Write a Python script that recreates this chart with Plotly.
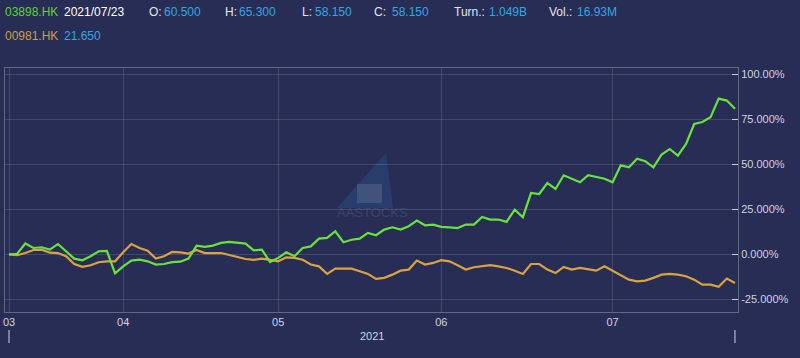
import pandas as pd
import plotly.graph_objects as go

# ---- data -------------------------------------------------------------
holidays = ["2021-04-02", "2021-04-05", "2021-04-06", "2021-05-19", "2021-06-14", "2021-07-01"]
dates = [d.strftime("%Y-%m-%d") for d in pd.bdate_range("2021-03-12", "2021-07-23")
         if d.strftime("%Y-%m-%d") not in holidays]

name_a = "03898.HK"
name_b = "00981.HK"

pct_a = [0.0, 0.3, 6.0, 3.5, 3.9, 2.6, 5.7, 1.7, -2.4, -3.3,
         -1.1, 1.7, 1.9, -10.6, -6.7, -3.5, -3.0, -3.9, -5.7, -5.4,
         -4.4, -4.1, -2.4, 4.8, 4.1, 4.8, 6.3, 6.9, 6.3, 5.9,
         2.2, 2.6, -4.3, -2.0, 1.1, -1.1, 3.5, 4.4, 8.7, 9.1,
         12.8, 6.7, 8.1, 8.7, 11.9, 10.6, 13.7, 15.0, 13.7, 15.6,
         18.7, 16.1, 16.5, 15.2, 15.0, 14.6, 16.5, 16.5, 20.7, 19.3,
         19.3, 18.0, 24.8, 20.6, 34.1, 33.5, 39.6, 36.3, 43.9, 41.9,
         40.0, 43.9, 42.8, 42.0, 40.0, 49.4, 48.3, 53.1, 51.7, 48.3,
         55.4, 58.5, 54.8, 61.3, 72.4, 73.5, 76.1, 86.5, 85.4, 80.9]

pct_b = [0.0, -0.5, 0.7, 2.4, 2.6, 0.9, 0.7, -1.1, -5.4, -7.0,
         -6.1, -4.4, -3.9, -3.9, 1.1, 5.7, 3.5, 2.0, -2.4, -1.1,
         1.3, 1.1, 0.4, 2.4, 0.7, 0.5, 0.7, -0.4, -1.5, -2.6,
         -3.1, -2.4, -3.1, -3.9, -1.7, -2.0, -3.0, -5.7, -6.7, -10.9,
         -8.0, -8.0, -8.0, -9.4, -10.9, -13.7, -13.1, -11.3, -9.1, -8.5,
         -3.5, -5.7, -4.8, -3.3, -3.9, -6.1, -8.5, -7.2, -6.7, -6.0,
         -6.7, -7.6, -9.1, -10.9, -5.4, -5.4, -8.5, -10.4, -7.0, -8.5,
         -7.6, -8.5, -9.1, -6.7, -9.1, -11.7, -14.1, -15.0, -14.6, -13.1,
         -11.3, -10.9, -11.3, -12.2, -14.1, -16.9, -16.9, -18.1, -13.5, -15.9]

y_ticks = [-25, 0, 25, 50, 75, 100]
y_tick_text = ["-25.000%", "0.000%", "25.000%", "50.000%", "75.000%", "100.00%"]
year_label = "2021"

header_row1 = [("03898.HK", "green"), ("2021/07/23", "white"),
               ("O:", "label"), ("60.500", "blue"),
               ("H:", "label"), ("65.300", "blue"),
               ("L:", "label"), ("58.150", "blue"),
               ("C:", "label"), ("58.150", "blue"),
               ("Turn.:", "label"), ("1.049B", "blue"),
               ("Vol.:", "label"), ("16.93M", "blue")]
header_row1_x = [3, 62, 147, 162, 223, 237, 300, 313, 372, 390, 452, 487, 547, 575]
header_row2 = [("00981.HK", "orange"), ("21.650", "blue")]
header_row2_x = [3, 62]

# ---- style ------------------------------------------------------------
BG = "#272d55"
GREEN = "#6ae23c"
ORANGE = "#d9a33f"
TXT = {"green": "#5fd23c", "white": "#ffffff", "label": "#e4e6ee",
       "blue": "#35a6e0", "orange": "#c99f4c"}
GRID = "rgba(255,255,255,0.13)"
FRAME = "rgba(255,255,255,0.28)"
AXIS_TXT = "#d0d3e2"
FONT = "Liberation Sans, Arial, sans-serif"

W, H = 800, 358
L, R, T, B = 5, 62, 68, 46
PW, PH = W - L - R, H - T - B


def px_x(px):
    return (px - L) / PW


def px_y(py):
    return (H - B - py) / PH


# month tick positions from the dates list
month_ticks, month_text = [], []
for i, d in enumerate(dates):
    m = d[5:7]
    if i == 0 or m != dates[i - 1][5:7]:
        month_ticks.append(d)
        month_text.append(m)

fig = go.Figure()
fig.add_trace(go.Scatter(x=dates, y=pct_b, mode="lines", name=name_b,
                         line=dict(color=ORANGE, width=2.2), hoverinfo="skip"))
fig.add_trace(go.Scatter(x=dates, y=pct_a, mode="lines", name=name_a,
                         line=dict(color=GREEN, width=2.2), hoverinfo="skip"))

fig.update_layout(
    width=W, height=H,
    margin=dict(l=L, r=R, t=T, b=B, autoexpand=False),
    paper_bgcolor=BG, plot_bgcolor=BG,
    showlegend=False,
    font=dict(family=FONT, color=AXIS_TXT),
    xaxis=dict(type="category", range=[-0.49, len(dates) - 0.63],
               tickvals=month_ticks, ticktext=month_text,
               showgrid=True, gridcolor=GRID, gridwidth=1,
               showline=True, linecolor=FRAME, linewidth=1, mirror=True,
               ticks="", ticklabelstandoff=0,
               tickfont=dict(family=FONT, size=11, color=AXIS_TXT)),
    yaxis=dict(side="right", range=[-32.06, 103.5],
               tickvals=y_ticks, ticktext=y_tick_text,
               showgrid=True, gridcolor=GRID, gridwidth=1, zeroline=False,
               showline=True, linecolor=FRAME, linewidth=1, mirror=True,
               ticks="inside", ticklen=6, tickcolor="#c9cde0", tickwidth=1,
               tickfont=dict(family=FONT, size=11, color=AXIS_TXT)),
)

# watermark (faint logo)
fig.add_shape(type="path", xref="paper", yref="paper", layer="below",
              path=f"M {px_x(386)} {px_y(153)} L {px_x(393)} {px_y(208)} "
                   f"L {px_x(337)} {px_y(208)} Z",
              fillcolor="rgba(45,95,160,0.32)", line=dict(width=0))
fig.add_shape(type="rect", xref="paper", yref="paper", layer="below",
              x0=px_x(357), x1=px_x(382), y0=px_y(203), y1=px_y(184),
              fillcolor="rgba(130,135,160,0.30)", line=dict(width=0))
fig.add_annotation(text="AASTOCKS", xref="paper", yref="paper",
                   x=px_x(372), y=px_y(213), showarrow=False,
                   xanchor="center", yanchor="middle",
                   font=dict(size=13, color="rgba(110,130,180,0.30)"))

# year label with span markers
fig.add_annotation(text=year_label, xref="paper", yref="paper",
                   x=px_x(372), y=px_y(336), showarrow=False,
                   xanchor="center", yanchor="middle",
                   font=dict(family=FONT, size=11, color=AXIS_TXT))
for d in (dates[0], dates[-1]):
    fig.add_shape(type="line", xref="x", yref="paper", x0=d, x1=d,
                  y0=px_y(330), y1=px_y(343),
                  line=dict(color=AXIS_TXT, width=1))

# header
for (txt, kind), px in zip(header_row1, header_row1_x):
    fig.add_annotation(text=txt, xref="paper", yref="paper", x=px_x(px), y=px_y(12),
                       xanchor="left", yanchor="middle", showarrow=False,
                       font=dict(size=12, color=TXT[kind]))
for (txt, kind), px in zip(header_row2, header_row2_x):
    fig.add_annotation(text=txt, xref="paper", yref="paper", x=px_x(px), y=px_y(36),
                       xanchor="left", yanchor="middle", showarrow=False,
                       font=dict(size=12, color=TXT[kind]))

fig.write_html("out.html", config={"displayModeBar": False},
               post_script="document.body.style.margin='0';document.body.style.overflow='hidden';")
